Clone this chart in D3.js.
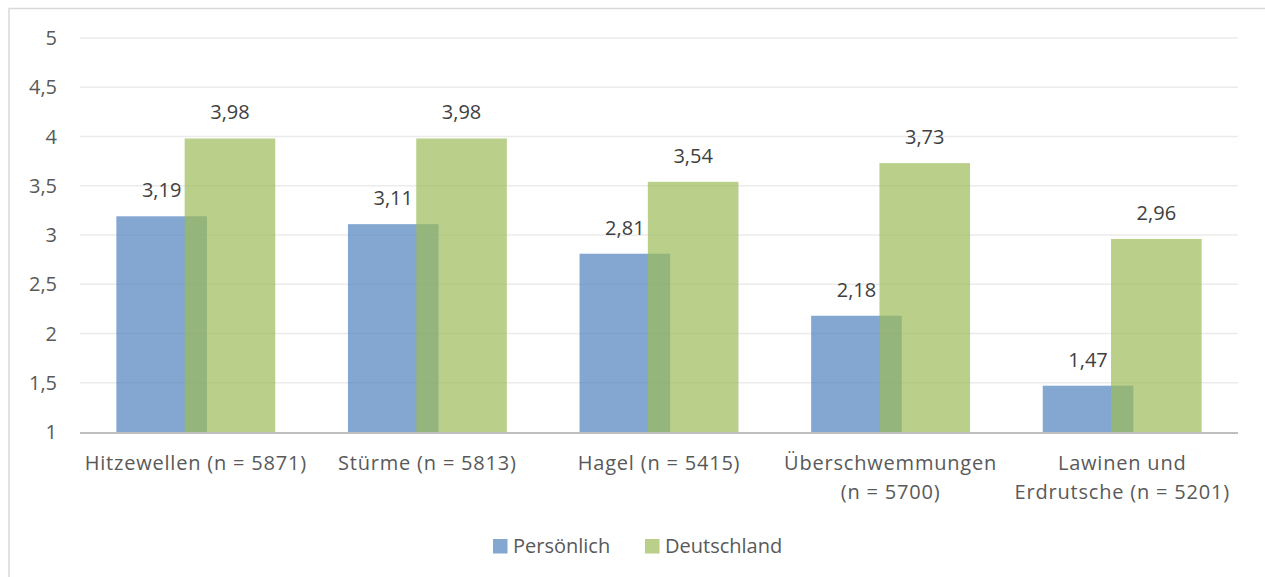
<!DOCTYPE html>
<html>
<head>
<meta charset="utf-8">
<script src="https://cdn.jsdelivr.net/npm/d3@7"></script>
<style>
  body { margin: 0; background: #fff; }
  text { font-family: "Open Sans", "Noto Sans", sans-serif; fill: #595959; }
  text.val { fill: #404040; }
</style>
</head>
<body>
<div id="chart"></div>
<script>
var categories = [
  ['Hitzewellen (n = 5871)'],
  ['Stürme (n = 5813)'],
  ['Hagel (n = 5415)'],
  ['Überschwemmungen', '(n = 5700)'],
  ['Lawinen und', 'Erdrutsche (n = 5201)']
];
var persoenlich = [3.19, 3.11, 2.81, 2.18, 1.47];
var deutschland = [3.98, 3.98, 3.54, 3.73, 2.96];
var seriesNames = ['Persönlich', 'Deutschland'];
var yTicks = [1, 1.5, 2, 2.5, 3, 3.5, 4, 4.5, 5];

var width = 1265;
var height = 577;
var plotLeft = 80, plotRight = 1238, plotTop = 38, plotBottom = 432;
var colors = ['#4F81BD', '#9BBB59'];
var barW = 90.6;
var overlap = 22.3;

var svg = d3.select('#chart')
    .append('svg')
    .attr('width', width)
    .attr('height', height);

// outer frame (runs off the picture on right and bottom)
svg.append('rect')
    .attr('x', 9).attr('y', 8.5)
    .attr('width', 1400).attr('height', 700)
    .attr('fill', 'none')
    .attr('stroke', '#d9d9d9')
    .attr('stroke-width', 1.5);

var x = d3.scaleBand()
    .domain(d3.range(categories.length))
    .range([plotLeft, plotRight]);

var y = d3.scaleLinear()
    .domain([1, 5])
    .range([plotBottom, plotTop]);

// gridlines
svg.selectAll('.grid')
    .data(yTicks.slice(1))
    .enter()
    .append('line')
    .attr('x1', plotLeft).attr('x2', plotRight)
    .attr('y1', function(d) { return y(d); })
    .attr('y2', function(d) { return y(d); })
    .attr('stroke', '#ebebeb')
    .attr('stroke-width', 1.5);

// y axis labels
svg.selectAll('.ylab')
    .data(yTicks)
    .enter()
    .append('text')
    .attr('x', 57)
    .attr('y', function(d) { return y(d) + 7; })
    .attr('text-anchor', 'end')
    .style('font-size', '20px')
    .text(function(d) { return String(d).replace('.', ','); });

var groupW = 2 * barW - overlap;
function barX(i, s) {
  var c = x(i) + x.bandwidth() / 2;
  return c - groupW / 2 + s * (barW - overlap);
}

[persoenlich, deutschland].forEach(function(vals, s) {
  svg.selectAll('.bar' + s)
    .data(vals)
    .enter()
    .append('rect')
    .attr('x', function(d, i) { return barX(i, s); })
    .attr('y', function(d) { return y(d); })
    .attr('width', barW)
    .attr('height', function(d) { return plotBottom - y(d); })
    .attr('fill', colors[s])
    .attr('fill-opacity', 0.7);
});

[persoenlich, deutschland].forEach(function(vals, s) {
  svg.selectAll('.val' + s)
    .data(vals)
    .enter()
    .append('text')
    .attr('class', 'val')
    .attr('x', function(d, i) { return barX(i, s) + barW / 2; })
    .attr('y', function(d) { return y(d) - 19; })
    .attr('text-anchor', 'middle')
    .style('font-size', '20px')
    .text(function(d) { return d.toFixed(2).replace('.', ','); });
});

// x axis line
svg.append('line')
    .attr('x1', plotLeft).attr('x2', plotRight)
    .attr('y1', plotBottom + 1).attr('y2', plotBottom + 1)
    .attr('stroke', '#bfbfbf')
    .attr('stroke-width', 2);

// category labels
var catLab = svg.selectAll('.cat')
    .data(categories)
    .enter()
    .append('text')
    .attr('text-anchor', 'middle')
    .style('font-size', '20px')
    .style('letter-spacing', '0.8px')
    .attr('transform', function(d, i) {
      return 'translate(' + (x(i) + x.bandwidth() / 2) + ',' + 470 + ')';
    });
catLab.selectAll('tspan')
    .data(function(d) { return d; })
    .enter()
    .append('tspan')
    .attr('x', 0)
    .attr('y', function(d, j) { return j * 29; })
    .text(function(d) { return d; });

// legend
var legendX = [493, 645];
var legend = svg.selectAll('.legend')
    .data(seriesNames)
    .enter()
    .append('g')
    .attr('transform', function(d, i) {
      return 'translate(' + legendX[i] + ',' + 539 + ')';
    });
legend.append('rect')
    .attr('width', 14.5)
    .attr('height', 14.5)
    .attr('fill', function(d, i) { return colors[i]; })
    .attr('fill-opacity', 0.7);
legend.append('text')
    .attr('x', 20)
    .attr('y', 14)
    .style('font-size', '20px')
    .text(function(d) { return d; });
</script>
</body>
</html>
